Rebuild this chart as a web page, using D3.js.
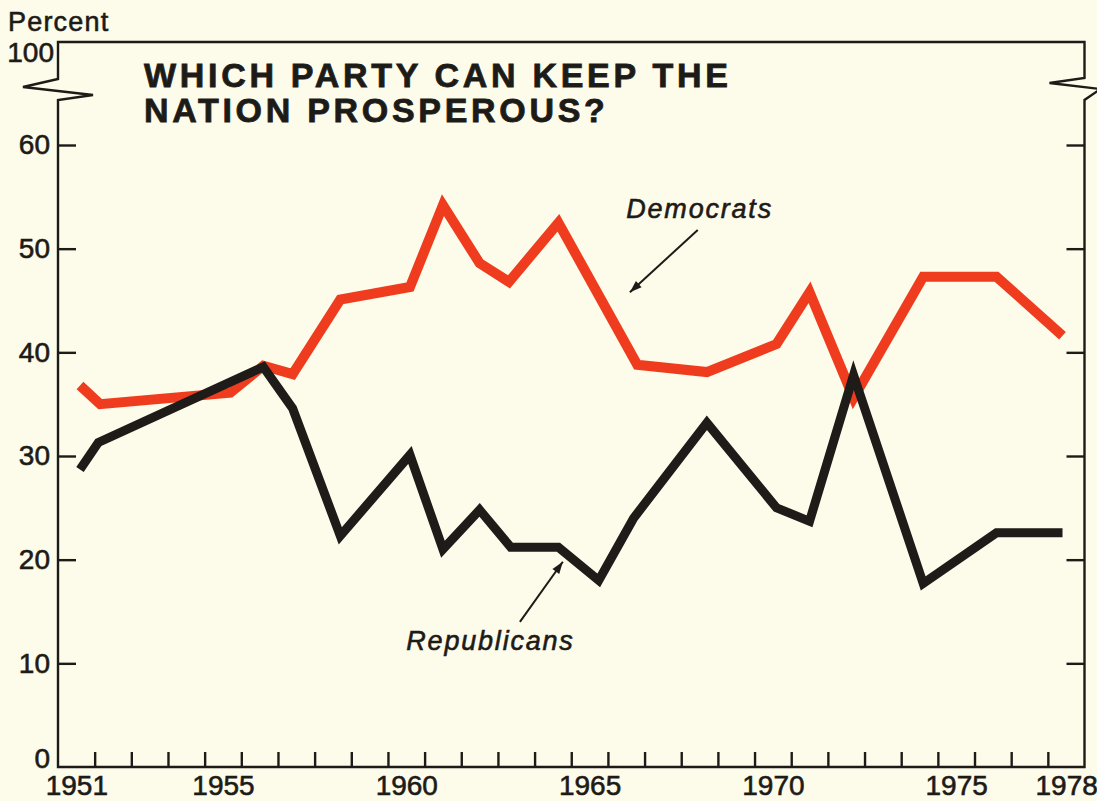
<!DOCTYPE html>
<html>
<head>
<meta charset="utf-8">
<script src="https://cdn.jsdelivr.net/npm/d3@7"></script>
<style>
  html, body { margin: 0; padding: 0; background: #fdfbea; }
  svg { display: block; }
  text { font-family: "Liberation Sans", Arial, Helvetica, sans-serif; fill: #1d1b17; stroke: #1d1b17; stroke-width: 0.6px; }
</style>
</head>
<body>
<svg id="chart" width="1097" height="801"></svg>
<script>
// ---- data ----
const demYears = [1951.6, 1952.15, 1955.7, 1956.6, 1957.4, 1958.7, 1960.6, 1961.5, 1962.5, 1963.3, 1964.65, 1966.8, 1968.7, 1970.6, 1971.5, 1972.7, 1974.6, 1976.6, 1978.4];
const demValues = [36.8, 35.0, 36.1, 38.7, 37.9, 45.1, 46.3, 54.2, 48.6, 46.8, 52.5, 38.8, 38.1, 40.8, 45.8, 35.6, 47.3, 47.3, 41.6];
const repYears = [1951.6, 1952.1, 1956.6, 1957.4, 1958.7, 1960.6, 1961.5, 1962.5, 1963.35, 1964.65, 1965.75, 1966.7, 1968.7, 1970.6, 1971.5, 1972.7, 1974.6, 1976.6, 1978.4];
const repValues = [28.7, 31.3, 38.6, 34.6, 22.3, 30.1, 21.0, 24.8, 21.2, 21.2, 18.0, 24.0, 33.2, 25.0, 23.7, 37.8, 17.7, 22.6, 22.6];
const yTickValues = [0, 10, 20, 30, 40, 50, 60];
const yTopLabel = 100;
const xTickYears = d3.range(1952, 1979);
const xLabelYears = [1951, 1955, 1960, 1965, 1970, 1975, 1978];
const titleLines = ["WHICH PARTY CAN KEEP THE", "NATION PROSPEROUS?"];

// ---- layout ----
const svg = d3.select("#chart");
svg.append("rect").attr("width", 1097).attr("height", 801).attr("fill", "#fdfbea");

const x = d3.scaleLinear().domain([1951, 1979]).range([58, 1084.5]);
const y = d3.scaleLinear().domain([0, 60, 100]).range([767, 145, 42]);

const ink = "#1d1b17";
const x0 = x.range()[0], x1 = x.range()[1];
const yBottom = y(0), yTop = y(100);

// frame with axis breaks
const frame = d3.path();
frame.moveTo(x0, yBottom);
frame.lineTo(x0, 100);
frame.lineTo(x0 + 35, 95);
frame.lineTo(x0 - 35, 87);
frame.lineTo(x0, 79);
frame.lineTo(x0, yTop);
frame.lineTo(x1, yTop);
frame.lineTo(x1, 78);
frame.lineTo(x1 - 35, 83);
frame.lineTo(x1 + 16, 89);
frame.lineTo(x1, 100);
frame.lineTo(x1, yBottom);
frame.closePath();
svg.append("path").attr("d", frame.toString())
  .attr("fill", "none").attr("stroke", ink).attr("stroke-width", 2.4)
  .attr("stroke-linejoin", "miter");

// left axis (ticks inward, labels outside)
const gLeft = svg.append("g").attr("transform", `translate(${x0},0)`)
  .call(d3.axisLeft(y).tickValues(yTickValues).tickSize(-18).tickPadding(8).tickFormat(d3.format("d")));
gLeft.select(".domain").remove();
gLeft.selectAll(".tick line").attr("stroke", ink).attr("stroke-width", 2.4);
gLeft.selectAll(".tick text").attr("font-size", 28).attr("fill", ink)
  .style("font-family", "'Liberation Sans', Arial, sans-serif");
gLeft.selectAll(".tick").filter(d => d === 0).select("line").remove();
gLeft.selectAll(".tick").filter(d => d === 0).select("text").attr("dy", "0.0em");

// top "100" label
svg.append("text").attr("x", x0 - 4).attr("y", y(yTopLabel) + 20)
  .attr("text-anchor", "end").attr("font-size", 28).text(yTopLabel);

// "Percent"
svg.append("text").attr("x", 8).attr("y", 31).attr("font-size", 27)
  .attr("letter-spacing", "1.2px").text("Percent");

// right axis ticks
const gRight = svg.append("g").attr("transform", `translate(${x1},0)`)
  .call(d3.axisRight(y).tickValues(yTickValues.filter(d => d > 0)).tickSize(-18).tickFormat(""));
gRight.select(".domain").remove();
gRight.selectAll(".tick line").attr("stroke", ink).attr("stroke-width", 2.4);

// bottom ticks at year boundaries
const gBottom = svg.append("g").attr("transform", `translate(0,${yBottom})`)
  .call(d3.axisBottom(x).tickValues(xTickYears).tickSize(-15).tickFormat(""));
gBottom.select(".domain").remove();
gBottom.selectAll(".tick line").attr("stroke", ink).attr("stroke-width", 2.4);

// bottom labels centered on year intervals
const gLabels = svg.append("g").attr("transform", `translate(0,${yBottom})`)
  .call(d3.axisBottom(x)
    .tickValues(xLabelYears.map(v => v + 0.5)).tickSize(0).tickPadding(8)
    .tickFormat(d => Math.floor(d)));
gLabels.select(".domain").remove();
gLabels.selectAll(".tick text").attr("font-size", 28).attr("fill", ink)
  .style("font-family", "'Liberation Sans', Arial, sans-serif");

// title
svg.append("g").selectAll("text").data(titleLines).join("text")
  .attr("x", 144).attr("y", (d, i) => 87 + i * 35)
  .attr("font-size", 34).attr("font-weight", "bold").attr("letter-spacing", "3.7px")
  .style("stroke-width", "0.8px")
  .text(d => d);

// lines
const line = d3.line().x(d => x(d[0])).y(d => y(d[1]));
const dem = demYears.map((v, i) => [v, demValues[i]]);
const rep = repYears.map((v, i) => [v, repValues[i]]);

svg.append("path").attr("d", line(dem)).attr("fill", "none")
  .attr("stroke", "#f03c1e").attr("stroke-width", 10)
  .attr("stroke-linejoin", "miter").attr("stroke-miterlimit", 10);
svg.append("path").attr("d", line(rep)).attr("fill", "none")
  .attr("stroke", "#1e1b18").attr("stroke-width", 9)
  .attr("stroke-linejoin", "miter").attr("stroke-miterlimit", 10);

// annotations
const defs = svg.append("defs");
defs.append("marker").attr("id", "arrow").attr("viewBox", "0 0 10 10")
  .attr("refX", 10).attr("refY", 5).attr("markerWidth", 8).attr("markerHeight", 6)
  .attr("markerUnits", "strokeWidth").attr("orient", "auto")
  .append("path").attr("d", "M0,1.5 L10,5 L0,8.5 Z").attr("fill", ink);

const annotations = [
  { text: "Democrats", tx: 1966.5, ty: 53.0, from: [1968.45, 51.8], to: [1966.6, 45.8] },
  { text: "Republicans", tx: 1960.5, ty: 11.3, from: [1963.6, 14.0], to: [1964.77, 19.8] }
];
annotations.forEach(a => {
  svg.append("text").attr("x", x(a.tx)).attr("y", y(a.ty))
    .attr("font-size", 27).attr("font-style", "italic").attr("letter-spacing", "1.8px")
    .text(a.text);
  svg.append("line")
    .attr("x1", x(a.from[0])).attr("y1", y(a.from[1]))
    .attr("x2", x(a.to[0])).attr("y2", y(a.to[1]))
    .attr("stroke", ink).attr("stroke-width", 2).attr("marker-end", "url(#arrow)");
});
</script>
</body>
</html>
